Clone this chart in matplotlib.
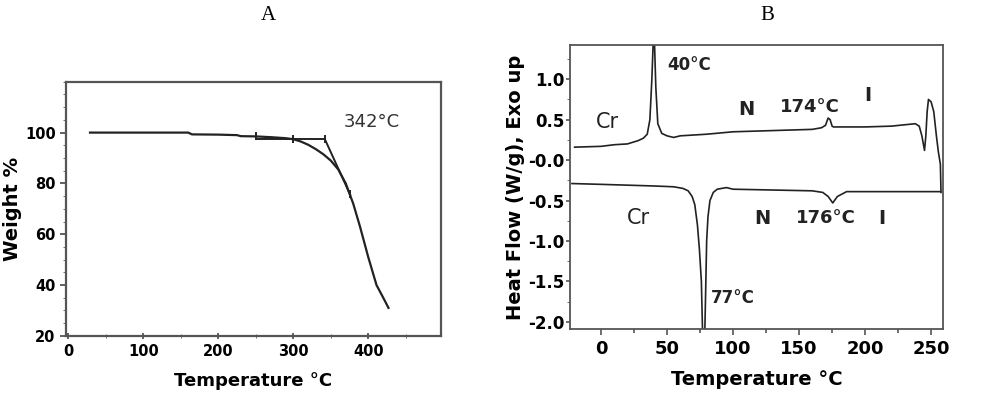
import numpy as np
import matplotlib.pyplot as plt
from matplotlib.ticker import MultipleLocator

# TGA data (panel A)
tga_temp = [29, 60, 100, 160, 165, 200, 225, 230, 250, 270, 290, 300, 310, 320, 330,
            340, 350, 360, 370, 380, 389, 400, 411, 420, 427]
tga_weight = [100, 100, 100, 100, 99.3, 99.2, 99.0, 98.6, 98.5, 98.2, 97.8, 97.4, 96.5, 95.2, 93.5,
              91.5, 89, 85.5, 80, 72, 63, 51, 40, 35, 31]
onset_flat_t = [250, 342]
onset_flat_w = [97.5, 97.5]
onset_slope_t = [342, 376]
onset_slope_w = [97.5, 75.5]
marker_t = [250, 300, 342, 376]
marker_w = [98.5, 97.4, 97.5, 76]

# DSC data (panel B)
heat_t = [-20, 0, 10, 20, 28, 32, 35, 37, 38.5, 39.5, 40.5, 41.5, 43, 46, 50, 55, 60, 80,
          100, 120, 140, 160, 167, 170, 172, 173.5, 175, 176, 180, 200, 220, 238, 241, 243,
          245, 246, 247, 248, 250, 252, 254, 255.5, 257, 257.5]
heat_hf = [0.16, 0.17, 0.19, 0.2, 0.24, 0.27, 0.32, 0.5, 1.0, 1.45, 1.45, 0.9, 0.45, 0.33,
           0.3, 0.28, 0.3, 0.32, 0.35, 0.36, 0.37, 0.38, 0.4, 0.43, 0.52, 0.5, 0.42, 0.41,
           0.41, 0.41, 0.42, 0.45, 0.42, 0.3, 0.12, 0.3, 0.6, 0.75, 0.72, 0.6, 0.3, 0.1,
           -0.05, -0.4]
cool_t = [-22, 0, 20, 40, 55, 62, 66, 69, 71, 73, 74.5, 76, 77, 78.5, 79.2, 80, 81, 82.5,
          85, 88, 95, 100, 130, 160, 168, 172, 175.5, 179, 186, 200, 230, 257]
cool_hf = [-0.29, -0.3, -0.31, -0.32, -0.33, -0.35, -0.38, -0.45, -0.55, -0.8, -1.1, -1.5,
           -2.2, -2.2, -1.66, -1.0, -0.7, -0.5, -0.4, -0.36, -0.34, -0.36, -0.37, -0.38,
           -0.4, -0.45, -0.53, -0.45, -0.39, -0.39, -0.39, -0.39]

line_c = '#222222'
spine_c = '#555555'

fig = plt.figure(figsize=(10, 3.97), dpi=100)

fig.text(0.268, 0.96, 'A', ha='center', va='center', fontsize=15, family='Liberation Serif')
fig.text(0.767, 0.96, 'B', ha='center', va='center', fontsize=15, family='Liberation Serif')

# panel A
ax1 = fig.add_axes([0.066, 0.154, 0.375, 0.64])
ax1.plot(tga_temp, tga_weight, color=line_c, lw=1.6)
ax1.plot(onset_flat_t, onset_flat_w, color=line_c, lw=1.4)
ax1.plot(onset_slope_t, onset_slope_w, color=line_c, lw=1.4)
ax1.plot(marker_t, marker_w, ls='none', marker='|', ms=6, mew=1.4, color=line_c)
ax1.text(405, 104, '342°C', ha='center', va='center', fontsize=13, color='#333333')
ax1.set_xlim(-3, 497)
ax1.set_ylim(20, 120)
ax1.set_xticks([0, 100, 200, 300, 400])
ax1.set_yticks([20, 40, 60, 80, 100])
ax1.xaxis.set_minor_locator(MultipleLocator(50))
ax1.yaxis.set_minor_locator(MultipleLocator(5))
ax1.tick_params(axis='both', which='major', labelsize=10.5, width=1.3, length=4, color=spine_c)
ax1.tick_params(axis='x', which='both', direction='inout')
ax1.tick_params(axis='y', which='minor', length=2, color=spine_c)
ax1.tick_params(axis='x', which='minor', length=3, color=spine_c)
for lab in ax1.get_xticklabels() + ax1.get_yticklabels():
    lab.set_fontweight('bold')
ax1.set_xlabel('Temperature °C', fontsize=13, fontweight='bold', labelpad=10)
ax1.set_ylabel('Weight %', fontsize=14, fontweight='bold', labelpad=2)
for s in ax1.spines.values():
    s.set_color(spine_c)
    s.set_linewidth(1.6)

# panel B
ax2 = fig.add_axes([0.570, 0.171, 0.373, 0.715])
ax2.plot(heat_t, heat_hf, color=line_c, lw=1.2)
ax2.plot(cool_t, cool_hf, color=line_c, lw=1.2)
ax2.set_xlim(-23.5, 259)
ax2.set_ylim(-2.09, 1.42)
ax2.set_xticks([0, 50, 100, 150, 200, 250])
ax2.set_yticks([-2.0, -1.5, -1.0, -0.5, 0.0, 0.5, 1.0])
ax2.set_yticklabels(['-2.0', '-1.5', '-1.0', '-0.5', '-0.0', '0.5', '1.0'])
ax2.xaxis.set_minor_locator(MultipleLocator(25))
ax2.yaxis.set_minor_locator(MultipleLocator(0.25))
ax2.tick_params(axis='x', which='major', labelsize=13, width=1.2, length=4, color=spine_c)
ax2.tick_params(axis='x', which='minor', width=1.2, length=3, color=spine_c)
ax2.tick_params(axis='y', which='major', labelsize=12, width=1.2, length=3, pad=1, color=spine_c)
ax2.tick_params(axis='y', which='minor', length=2, color=spine_c)
for lab in ax2.get_xticklabels() + ax2.get_yticklabels():
    lab.set_fontweight('bold')
ax2.set_xlabel('Temperature °C', fontsize=14, fontweight='bold', labelpad=9)
ax2.set_ylabel('Heat Flow (W/g), Exo up', fontsize=14, fontweight='bold', labelpad=2)
for s in ax2.spines.values():
    s.set_color(spine_c)
    s.set_linewidth(1.3)

ann = dict(color='#222222', va='center')
ax2.text(50, 1.18, '40°C', ha='left', fontsize=12, fontweight='bold', **ann)
ax2.text(5, 0.47, 'Cr', ha='center', fontsize=15, **ann)
ax2.text(110, 0.63, 'N', ha='center', fontsize=14, fontweight='bold', **ann)
ax2.text(158, 0.66, '174°C', ha='center', fontsize=13, fontweight='bold', **ann)
ax2.text(202, 0.8, 'I', ha='center', fontsize=14, fontweight='bold', **ann)
ax2.text(28, -0.72, 'Cr', ha='center', fontsize=15, **ann)
ax2.text(122, -0.72, 'N', ha='center', fontsize=14, fontweight='bold', **ann)
ax2.text(170, -0.72, '176°C', ha='center', fontsize=13, fontweight='bold', **ann)
ax2.text(213, -0.72, 'I', ha='center', fontsize=14, fontweight='bold', **ann)
ax2.text(83, -1.71, '77°C', ha='left', fontsize=12, fontweight='bold', **ann)

fig.savefig('out.png', dpi=100)
